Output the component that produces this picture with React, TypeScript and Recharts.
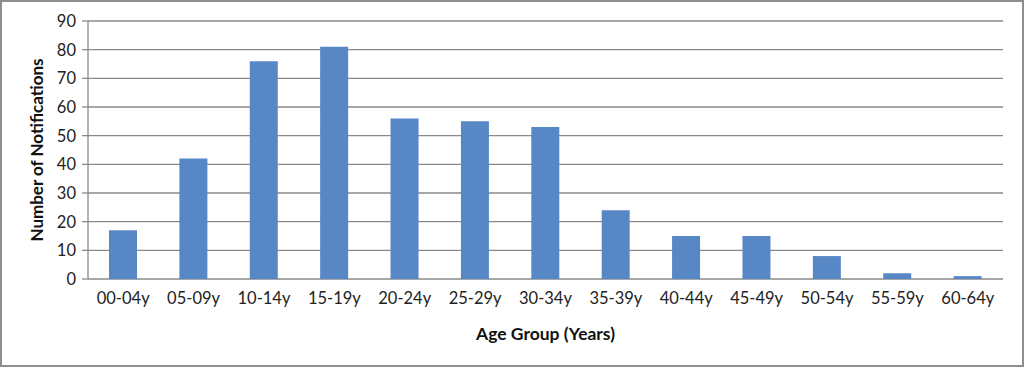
import React from "react";
import { BarChart, Bar, XAxis, YAxis, CartesianGrid, Label } from "recharts";

const categories = ["00-04y", "05-09y", "10-14y", "15-19y", "20-24y", "25-29y", "30-34y", "35-39y", "40-44y", "45-49y", "50-54y", "55-59y", "60-64y"];
const notifications = [17, 42, 76, 81, 56, 55, 53, 24, 15, 15, 8, 2, 1];
const yTicks = [0, 10, 20, 30, 40, 50, 60, 70, 80, 90];
const boundaryTicks = [0, 1, 2, 3, 4, 5, 6, 7, 8, 9, 10, 11, 12, 13];

const data = categories.map((c, i) => ({ group: c, value: notifications[i] }));

const FONT = "Lato, 'Open Sans', sans-serif";

export default function App() {
  return (
    <div style={{ position: "fixed", left: 0, top: 0, width: 1024, height: 367, background: "#fff" }}>
      <div style={{ position: "absolute", left: 0, top: 0, width: 1024, height: 367, boxSizing: "border-box", border: "2px solid #8e8e8e" }} />
      <BarChart width={1024} height={367} data={data} margin={{ top: 21, right: 21, bottom: 26, left: 0 }} style={{ fontFamily: FONT }}>
        <CartesianGrid vertical={false} stroke="#8a8a8a" strokeWidth={1.3} />
        <XAxis xAxisId="b" type="number" domain={[0, 13]} ticks={boundaryTicks} height={0} tick={false} tickSize={6} axisLine={{ stroke: "#8a8a8a", strokeWidth: 1.3 }} tickLine={{ stroke: "#8a8a8a", strokeWidth: 1.3 }} />
        <XAxis dataKey="group" height={62} tickLine={false} axisLine={false} tickSize={0} tickMargin={13} tick={{ fill: "#222", fontSize: 16.5, fontFamily: FONT }} interval={0}>
          <Label value="Age Group (Years)" position="insideBottom" offset={1} style={{ fontWeight: 700, fontSize: 17.5, fill: "#111", fontFamily: FONT }} />
        </XAxis>
        <YAxis width={88} domain={[0, 90]} ticks={yTicks} tickSize={6} tickMargin={6} axisLine={{ stroke: "#8a8a8a", strokeWidth: 1.3 }} tickLine={{ stroke: "#8a8a8a", strokeWidth: 1.3 }} tick={{ fill: "#222", fontSize: 16.5, fontFamily: FONT }}>
          <Label value="Number of Notifications" angle={-90} position="insideLeft" offset={37} style={{ textAnchor: "middle", fontWeight: 700, fontSize: 17, fill: "#111", fontFamily: FONT }} />
        </YAxis>
        <Bar dataKey="value" fill="#5787C5" barSize={28} isAnimationActive={false} />
      </BarChart>
    </div>
  );
}
